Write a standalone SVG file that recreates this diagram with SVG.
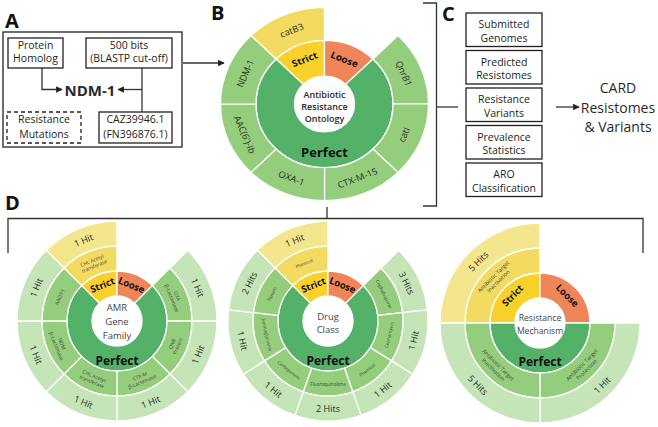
<svg xmlns="http://www.w3.org/2000/svg" width="658" height="427" viewBox="0 0 658 427">
<defs>
<style>
text{font-family:"Open Sans","Noto Sans","DejaVu Sans",sans-serif;fill:#2a2a2a}
.st{fill:#f9d12a}.lo{fill:#f0855a}.pf{fill:#54b268}.mg{fill:#94ce7c}.og{fill:#c5e4b7}.my{fill:#f3db61}.oy{fill:#f3e68c}
.seg path{stroke:#fff;stroke-width:1.3;stroke-linejoin:round}
.box{fill:#fff;stroke:#231f20;stroke-width:1.3}
.dash{fill:#fff;stroke:#231f20;stroke-width:1.3;stroke-dasharray:4 3}
.bt{font-size:10.5px;text-anchor:middle;fill:#231f20}
.pl{font-size:20px;font-weight:700;fill:#111}
.ln{fill:none;stroke:#333;stroke-width:1.3}
.c{text-anchor:middle;dominant-baseline:central}
.bo{font-size:9.5px}
.h{font-size:9px}
.sl{font-weight:700;fill:#111}
.pe{font-weight:700;fill:#111}
.m1{font-size:5px;fill:#444}
.m2{font-size:4.6px;fill:#444}
.m3{font-size:5.5px;fill:#444}
.ctr{text-anchor:middle;fill:#444}
</style>
<marker id="ah" viewBox="0 0 10 10" refX="9" refY="5" markerWidth="5" markerHeight="5" orient="auto"><path d="M0,0 L10,5 L0,10 z" fill="#231f20"/></marker>
</defs>
<rect width="658" height="427" fill="#fff"/>

<!-- Panel letters -->
<text class="pl" x="5" y="28">A</text>
<text class="pl" x="211" y="20">B</text>
<text class="pl" x="442" y="21">C</text>
<text class="pl" x="5" y="210">D</text>

<!-- Panel A -->
<g id="panelA">
<rect class="box" x="3" y="32" width="179" height="115"/>
<g id="protein-homolog"><rect class="box" x="8" y="38" width="55" height="30"/>
<text class="bt" x="35.5" y="49">Protein</text><text class="bt" x="35.5" y="62">Homolog</text></g>
<g id="blastp"><rect class="box" x="86" y="38" width="86" height="30"/>
<text class="bt" x="129" y="49">500 bits</text><text class="bt" x="129" y="62">(BLASTP cut-off)</text></g>
<g id="resistance-mutations"><rect class="dash" x="7" y="112" width="74" height="31"/>
<text class="bt" x="44" y="123">Resistance</text><text class="bt" x="44" y="137.5">Mutations</text></g>
<g id="caz"><rect class="box" x="99" y="112" width="73" height="31"/>
<text class="bt" x="135.5" y="123">CAZ39946.1</text><text class="bt" x="135.5" y="137.5">(FN396876.1)</text></g>
<g id="ndm1"><text x="90" y="96" font-size="15" font-weight="700" text-anchor="middle" fill="#111">NDM-1</text></g>
</g>

<!-- Panel B -->
<g id="panelB">
<g class="seg" transform="translate(324.5,104) scale(1,0.93)">
<path class="st" d="M -48.44,-48.44 A 68.5 68.5 0 0 1 0,-68.5 L 0,-30 A 30 30 0 0 0 -21.21,-21.21 Z"/>
<path class="lo" d="M 0,-68.5 A 68.5 68.5 0 0 1 48.44,-48.44 L 21.21,-21.21 A 30 30 0 0 0 0,-30 Z"/>
<path class="pf" d="M 48.44,-48.44 A 68.5 68.5 0 1 1 -48.44,-48.44 L -21.21,-21.21 A 30 30 0 1 0 21.21,-21.21 Z"/>
<path class="my" d="M -73.54,-73.54 A 104 104 0 0 1 0,-104 L 0,-68.5 A 68.5 68.5 0 0 0 -48.44,-48.44 Z"/>
<path class="mg" d="M 73.54,-73.54 A 104 104 0 0 1 104,0 L 68.5,0 A 68.5 68.5 0 0 0 48.44,-48.44 Z"/>
<path class="mg" d="M 104,0 A 104 104 0 0 1 73.54,73.54 L 48.44,48.44 A 68.5 68.5 0 0 0 68.5,0 Z"/>
<path class="mg" d="M 73.54,73.54 A 104 104 0 0 1 0,104 L 0,68.5 A 68.5 68.5 0 0 0 48.44,48.44 Z"/>
<path class="mg" d="M 0,104 A 104 104 0 0 1 -73.54,73.54 L -48.44,48.44 A 68.5 68.5 0 0 0 0,68.5 Z"/>
<path class="mg" d="M -73.54,73.54 A 104 104 0 0 1 -104,0 L -68.5,0 A 68.5 68.5 0 0 0 -48.44,48.44 Z"/>
<path class="mg" d="M -104,0 A 104 104 0 0 1 -73.54,-73.54 L -48.44,-48.44 A 68.5 68.5 0 0 0 -68.5,0 Z"/>
<text class="c bo" transform="translate(-32.91,-79.45) rotate(-22.5)">catB3</text>
<text class="c bo" transform="translate(79.45,-32.91) rotate(67.5)">QnrB1</text>
<text class="c bo" transform="translate(79.45,32.91) rotate(-67.5)">catI</text>
<text class="c bo" transform="translate(32.91,79.45) rotate(-22.5)">CTX-M-15</text>
<text class="c bo" transform="translate(-32.91,79.45) rotate(22.5)">OXA-1</text>
<text class="c bo" transform="translate(-79.45,32.91) rotate(67.5)">AAC(6')-Ib</text>
<text class="c bo" transform="translate(-79.45,-32.91) rotate(-67.5)">NDM-1</text>
<text class="c sl" font-size="10" transform="translate(-19.9,-48) rotate(-22.5)">Strict</text>
<text class="c sl" font-size="10" transform="translate(19.9,-48) rotate(22.5)">Loose</text>
<text class="c pe" font-size="13" x="0" y="52">Perfect</text>
</g>
<text x="324.5" y="98.3" font-size="9" font-weight="600" text-anchor="middle" fill="#222">Antibiotic</text>
<text x="324.5" y="110.3" font-size="9" font-weight="600" text-anchor="middle" fill="#222">Resistance</text>
<text x="324.5" y="122.3" font-size="9" font-weight="600" text-anchor="middle" fill="#222">Ontology</text>
</g>

<!-- Panel C -->
<g id="panelC">
<g id="c1"><rect class="box" x="466" y="13" width="76" height="33.5"/><text class="bt" x="504" y="28">Submitted</text><text class="bt" x="504" y="41.5">Genomes</text></g>
<g id="c2"><rect class="box" x="466" y="50.5" width="76" height="33.5"/><text class="bt" x="504" y="65.5">Predicted</text><text class="bt" x="504" y="79">Resistomes</text></g>
<g id="c3"><rect class="box" x="466" y="88" width="76" height="33.5"/><text class="bt" x="504" y="103">Resistance</text><text class="bt" x="504" y="116.5">Variants</text></g>
<g id="c4"><rect class="box" x="466" y="125.5" width="76" height="33.5"/><text class="bt" x="504" y="140.5">Prevalence</text><text class="bt" x="504" y="154">Statistics</text></g>
<g id="c5"><rect class="box" x="466" y="163" width="76" height="33.5"/><text class="bt" x="504" y="178">ARO</text><text class="bt" x="504" y="191.5">Classification</text></g>
<g id="card"><text x="618" y="93" font-size="14" text-anchor="middle" fill="#231f20">CARD</text>
<text x="618" y="112.5" font-size="14" text-anchor="middle" fill="#231f20">Resistomes</text>
<text x="618" y="131.5" font-size="14" text-anchor="middle" fill="#231f20">&amp; Variants</text></g>
</g>

<!-- Panel D1 -->
<g id="amr-gene-family">
<g class="seg" transform="translate(117,321)">
<path class="st" d="M -35.36,-35.36 A 50 50 0 0 1 0,-50 L 0,-25 A 25 25 0 0 0 -17.68,-17.68 Z"/>
<path class="lo" d="M 0,-50 A 50 50 0 0 1 35.36,-35.36 L 17.68,-17.68 A 25 25 0 0 0 0,-25 Z"/>
<path class="pf" d="M 35.36,-35.36 A 50 50 0 1 1 -35.36,-35.36 L -17.68,-17.68 A 25 25 0 1 0 17.68,-17.68 Z"/>
<path class="my" d="M -53.03,-53.03 A 75 75 0 0 1 0,-75 L 0,-50 A 50 50 0 0 0 -35.36,-35.36 Z"/>
<path class="mg" d="M 53.03,-53.03 A 75 75 0 0 1 75,0 L 50,0 A 50 50 0 0 0 35.36,-35.36 Z"/>
<path class="mg" d="M 75,0 A 75 75 0 0 1 53.03,53.03 L 35.36,35.36 A 50 50 0 0 0 50,0 Z"/>
<path class="mg" d="M 53.03,53.03 A 75 75 0 0 1 0,75 L 0,50 A 50 50 0 0 0 35.36,35.36 Z"/>
<path class="mg" d="M 0,75 A 75 75 0 0 1 -53.03,53.03 L -35.36,35.36 A 50 50 0 0 0 0,50 Z"/>
<path class="mg" d="M -53.03,53.03 A 75 75 0 0 1 -75,0 L -50,0 A 50 50 0 0 0 -35.36,35.36 Z"/>
<path class="mg" d="M -75,0 A 75 75 0 0 1 -53.03,-53.03 L -35.36,-35.36 A 50 50 0 0 0 -50,0 Z"/>
<path class="oy" d="M -70.71,-70.71 A 100 100 0 0 1 0,-100 L 0,-75 A 75 75 0 0 0 -53.03,-53.03 Z"/>
<path class="og" d="M 70.71,-70.71 A 100 100 0 0 1 100,0 L 75,0 A 75 75 0 0 0 53.03,-53.03 Z"/>
<path class="og" d="M 100,0 A 100 100 0 0 1 70.71,70.71 L 53.03,53.03 A 75 75 0 0 0 75,0 Z"/>
<path class="og" d="M 70.71,70.71 A 100 100 0 0 1 0,100 L 0,75 A 75 75 0 0 0 53.03,53.03 Z"/>
<path class="og" d="M 0,100 A 100 100 0 0 1 -70.71,70.71 L -53.03,53.03 A 75 75 0 0 0 0,75 Z"/>
<path class="og" d="M -70.71,70.71 A 100 100 0 0 1 -100,0 L -75,0 A 75 75 0 0 0 -53.03,53.03 Z"/>
<path class="og" d="M -100,0 A 100 100 0 0 1 -70.71,-70.71 L -53.03,-53.03 A 75 75 0 0 0 -75,0 Z"/>
<text class="c h" transform="translate(-33.48,-80.84) rotate(-22.5)">1 Hit</text>
<text class="c h" transform="translate(80.84,-33.48) rotate(67.5)">1 Hit</text>
<text class="c h" transform="translate(80.84,33.48) rotate(-67.5)">1 Hit</text>
<text class="c h" transform="translate(33.48,80.84) rotate(-22.5)">1 Hit</text>
<text class="c h" transform="translate(-33.48,80.84) rotate(22.5)">1 Hit</text>
<text class="c h" transform="translate(-80.84,33.48) rotate(67.5)">1 Hit</text>
<text class="c h" transform="translate(-80.84,-33.48) rotate(-67.5)">1 Hit</text>
<text class="c m1" transform="translate(-23.92,-57.74) rotate(-22.5)"><tspan x="0" y="-3">CHL Acetyl</tspan><tspan x="0" y="3">transferase</tspan></text>
<text class="c m1" transform="translate(57.74,-23.92) rotate(67.5)"><tspan x="0" y="-3">OXA</tspan><tspan x="0" y="3">β-Lactamase</tspan></text>
<text class="c m1" transform="translate(57.74,23.92) rotate(-67.5)"><tspan x="0" y="-3">QNR</tspan><tspan x="0" y="3">Protein</tspan></text>
<text class="c m1" transform="translate(23.92,57.74) rotate(-22.5)"><tspan x="0" y="-3">CTX-M</tspan><tspan x="0" y="3">β-Lactamase</tspan></text>
<text class="c m1" transform="translate(-23.92,57.74) rotate(22.5)"><tspan x="0" y="-3">CHL Acetyl</tspan><tspan x="0" y="3">transferase</tspan></text>
<text class="c m1" transform="translate(-57.74,23.92) rotate(67.5)"><tspan x="0" y="-3">NDM</tspan><tspan x="0" y="3">β-Lactamase</tspan></text>
<text class="c m1" transform="translate(-57.74,-23.92) rotate(-67.5)">AAC(6')</text>
<text class="c sl" font-size="9.5" transform="translate(-14.54,-36) rotate(-22.5)">Strict</text>
<text class="c sl" font-size="9.5" transform="translate(14.54,-36) rotate(22.5)">Loose</text>
<text class="c pe" font-size="12" x="0" y="39">Perfect</text>
<text class="ctr" font-size="9.5" x="0" y="-10">AMR</text>
<text class="ctr" font-size="9.5" x="0" y="4">Gene</text>
<text class="ctr" font-size="9.5" x="0" y="17.5">Family</text>
</g>
</g>

<!-- Panel D2 -->
<g id="drug-class">
<g class="seg" transform="translate(328,321)">
<path class="st" d="M -35.36,-35.36 A 50 50 0 0 1 0,-50 L 0,-25 A 25 25 0 0 0 -17.68,-17.68 Z"/>
<path class="lo" d="M 0,-50 A 50 50 0 0 1 35.36,-35.36 L 17.68,-17.68 A 25 25 0 0 0 0,-25 Z"/>
<path class="pf" d="M 35.36,-35.36 A 50 50 0 1 1 -35.36,-35.36 L -17.68,-17.68 A 25 25 0 1 0 17.68,-17.68 Z"/>
<path class="my" d="M -53.03,-53.03 A 75 75 0 0 1 0,-75 L 0,-50 A 50 50 0 0 0 -35.36,-35.36 Z"/>
<path class="mg" d="M 53.03,-53.03 A 75 75 0 0 1 74.53,-8.40 L 49.69,-5.60 A 50 50 0 0 0 35.36,-35.36 Z"/>
<path class="mg" d="M 74.53,-8.40 A 75 75 0 0 1 63.50,39.90 L 42.34,26.60 A 50 50 0 0 0 49.69,-5.60 Z"/>
<path class="mg" d="M 63.50,39.90 A 75 75 0 0 1 24.77,70.79 L 16.51,47.19 A 50 50 0 0 0 42.34,26.60 Z"/>
<path class="mg" d="M 24.77,70.79 A 75 75 0 0 1 -24.77,70.79 L -16.51,47.19 A 50 50 0 0 0 16.51,47.19 Z"/>
<path class="mg" d="M -24.77,70.79 A 75 75 0 0 1 -63.50,39.90 L -42.34,26.60 A 50 50 0 0 0 -16.51,47.19 Z"/>
<path class="mg" d="M -63.50,39.90 A 75 75 0 0 1 -74.53,-8.40 L -49.69,-5.60 A 50 50 0 0 0 -42.34,26.60 Z"/>
<path class="mg" d="M -74.53,-8.40 A 75 75 0 0 1 -53.03,-53.03 L -35.36,-35.36 A 50 50 0 0 0 -49.69,-5.60 Z"/>
<path class="oy" d="M -70.71,-70.71 A 100 100 0 0 1 0,-100 L 0,-75 A 75 75 0 0 0 -53.03,-53.03 Z"/>
<path class="og" d="M 70.71,-70.71 A 100 100 0 0 1 99.37,-11.20 L 74.53,-8.40 A 75 75 0 0 0 53.03,-53.03 Z"/>
<path class="og" d="M 99.37,-11.20 A 100 100 0 0 1 84.67,53.20 L 63.50,39.90 A 75 75 0 0 0 74.53,-8.40 Z"/>
<path class="og" d="M 84.67,53.20 A 100 100 0 0 1 33.03,94.39 L 24.77,70.79 A 75 75 0 0 0 63.50,39.90 Z"/>
<path class="og" d="M 33.03,94.39 A 100 100 0 0 1 -33.03,94.39 L -24.77,70.79 A 75 75 0 0 0 24.77,70.79 Z"/>
<path class="og" d="M -33.03,94.39 A 100 100 0 0 1 -84.67,53.20 L -63.50,39.90 A 75 75 0 0 0 -24.77,70.79 Z"/>
<path class="og" d="M -84.67,53.20 A 100 100 0 0 1 -99.37,-11.20 L -74.53,-8.40 A 75 75 0 0 0 -63.50,39.90 Z"/>
<path class="og" d="M -99.37,-11.20 A 100 100 0 0 1 -70.71,-70.71 L -53.03,-53.03 A 75 75 0 0 0 -74.53,-8.40 Z"/>
<text class="c h" transform="translate(-33.48,-80.84) rotate(-22.5)">1 Hit</text>
<text class="c h" transform="translate(78.83,-37.96) rotate(64.29)">3 Hits</text>
<text class="c h" transform="translate(85.31,19.47) rotate(-77.14)">1 Hit</text>
<text class="c h" transform="translate(54.56,68.41) rotate(-38.57)">1 Hit</text>
<text class="c h" transform="translate(0,87.5)">2 Hits</text>
<text class="c h" transform="translate(-54.56,68.41) rotate(38.57)">1 Hit</text>
<text class="c h" transform="translate(-85.31,19.47) rotate(77.14)">1 Hit</text>
<text class="c h" transform="translate(-78.83,-37.96) rotate(-64.29)">2 Hits</text>
<text class="c m2" transform="translate(-23.92,-57.74) rotate(-22.5)">Phenicol</text>
<text class="c m2" transform="translate(56.31,-27.12) rotate(64.29)">Cephalosporin</text>
<text class="c m2" transform="translate(60.93,13.91) rotate(-77.14)">Cephamycin</text>
<text class="c m2" transform="translate(38.97,48.86) rotate(-38.57)">Phenicol</text>
<text class="c m2" transform="translate(0,62.5)">Fluoroquinolone</text>
<text class="c m2" transform="translate(-38.97,48.86) rotate(38.57)">Carbapenem</text>
<text class="c m2" transform="translate(-60.93,13.91) rotate(77.14)">Aminoglycoside</text>
<text class="c m2" transform="translate(-56.31,-27.12) rotate(-64.29)">Penam</text>
<text class="c sl" font-size="9.5" transform="translate(-14.54,-36) rotate(-22.5)">Strict</text>
<text class="c sl" font-size="9.5" transform="translate(14.54,-36) rotate(22.5)">Loose</text>
<text class="c pe" font-size="12" x="0" y="39">Perfect</text>
<text class="ctr" font-size="9.5" x="0" y="-1.5">Drug</text>
<text class="ctr" font-size="9.5" x="0" y="11.5">Class</text>
</g>
</g>

<!-- Panel D3 -->
<g id="resistance-mechanism">
<g class="seg" transform="translate(540,323)">
<path class="st" d="M -50,0 A 50 50 0 0 1 0,-50 L 0,-25 A 25 25 0 0 0 -25,0 Z"/>
<path class="lo" d="M 0,-50 A 50 50 0 0 1 50,0 L 25,0 A 25 25 0 0 0 0,-25 Z"/>
<path class="pf" d="M 50,0 A 50 50 0 0 1 -50,0 L -25,0 A 25 25 0 0 0 25,0 Z"/>
<path class="my" d="M -75,0 A 75 75 0 0 1 0,-75 L 0,-50 A 50 50 0 0 0 -50,0 Z"/>
<path class="mg" d="M 75,0 A 75 75 0 0 1 0,75 L 0,50 A 50 50 0 0 0 50,0 Z"/>
<path class="mg" d="M 0,75 A 75 75 0 0 1 -75,0 L -50,0 A 50 50 0 0 0 0,50 Z"/>
<path class="oy" d="M -100,0 A 100 100 0 0 1 0,-100 L 0,-75 A 75 75 0 0 0 -75,0 Z"/>
<path class="og" d="M 100,0 A 100 100 0 0 1 0,100 L 0,75 A 75 75 0 0 0 75,0 Z"/>
<path class="og" d="M 0,100 A 100 100 0 0 1 -100,0 L -75,0 A 75 75 0 0 0 0,75 Z"/>
<text class="c h" transform="translate(-61.87,-61.87) rotate(-45)">5 Hits</text>
<text class="c h" transform="translate(61.87,61.87) rotate(-45)">1 Hit</text>
<text class="c h" transform="translate(-61.87,61.87) rotate(45)">5 Hits</text>
<text class="c m3" transform="translate(-44.19,-44.19) rotate(-45)"><tspan x="0" y="-3.3">Antibiotic Target</tspan><tspan x="0" y="3.3">Inactivation</tspan></text>
<text class="c m3" transform="translate(44.19,44.19) rotate(-45)"><tspan x="0" y="-3.3">Antibiotic Target</tspan><tspan x="0" y="3.3">Protection</tspan></text>
<text class="c m3" transform="translate(-44.19,44.19) rotate(45)"><tspan x="0" y="-3.3">Antibiotic Target</tspan><tspan x="0" y="3.3">Inactivation</tspan></text>
<text class="c sl" font-size="9.5" transform="translate(-27.5,-27.5) rotate(-45)">Strict</text>
<text class="c sl" font-size="9.5" transform="translate(27.5,-27.5) rotate(45)">Loose</text>
<text class="c pe" font-size="12" x="0" y="38">Perfect</text>
<text class="ctr" font-size="8.6" x="0" y="-2">Resistance</text>
<text class="ctr" font-size="8.6" x="0" y="10.5">Mechanism</text>
</g>
</g>

<!-- Connectors -->
<g id="connectors">
<path class="ln" d="M42,68 V89.5 H62" marker-end="url(#ah)"/>
<path class="ln" d="M142,68 V112"/>
<path class="ln" d="M142,89.5 H118" marker-end="url(#ah)"/>
<path class="ln" d="M183,63 H224" marker-end="url(#ah)"/>
<path class="ln" d="M423,3 H436.5 V206 H423"/>
<path class="ln" d="M436.5,107 H458"/>
<path class="ln" d="M556,107 H579" marker-end="url(#ah)"/>
<path class="ln" d="M8,253 V218.5 H643 V253"/>
<path class="ln" d="M327,207 V218.5"/>
</g>
</svg>
